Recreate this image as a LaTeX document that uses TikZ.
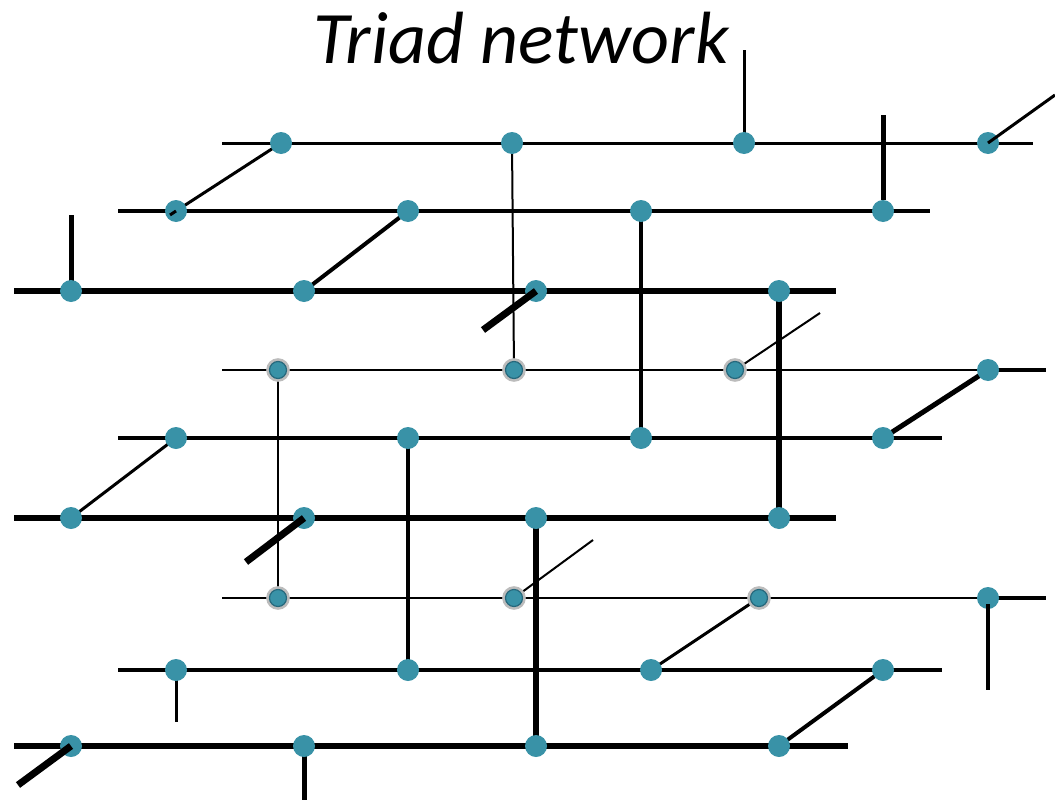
\documentclass[tikz,border=0pt]{standalone}
\usepackage{fontspec}
\setmainfont{Carlito}
\definecolor{teal1}{RGB}{57,146,167}
\definecolor{tealdark}{RGB}{38,104,124}
\definecolor{ringgrey}{RGB}{188,188,188}
\pgfdeclarelayer{bg}
\pgfsetlayers{bg,main}
\tikzset{
  dot/.style={circle, fill=teal1, inner sep=0pt, minimum size=22pt},
  gdot/.style={circle, fill=teal1, draw=tealdark, line width=1.2pt, inner sep=0pt, minimum size=17pt,
    preaction={draw=ringgrey, line width=6.5pt}},
  wA/.style={line width=2pt},
  wB/.style={line width=3pt},
  wC/.style={line width=4pt},
  wD/.style={line width=5pt},
  wE/.style={line width=6pt},
  wF/.style={line width=7pt},
}
\begin{document}
\begin{tikzpicture}[x=1pt,y=-1pt]
\useasboundingbox (0,0) rectangle (1055,803);
\node[font=\fontsize{74}{84}\selectfont\itshape, anchor=base] (title) at (521,63) {Triad network};

% ---------- Layer 1 ----------
\coordinate (r1s) at (222,143); \coordinate (r1e) at (1033,143);
\coordinate (r2s) at (118,211); \coordinate (r2e) at (930,211);
\coordinate (r3s) at (14,291);  \coordinate (r3e) at (836,291);
\node[dot] (a1) at (281,143) {}; \node[dot] (a2) at (512,143) {};
\node[dot] (a3) at (744,143) {}; \node[dot] (a4) at (988,143) {};
\node[dot] (b1) at (176,211) {}; \node[dot] (b2) at (408,211) {};
\node[dot] (b3) at (641,211) {}; \node[dot] (b4) at (883,211) {};
\node[dot] (c1) at (71,291) {};  \node[dot] (c2) at (304,291) {};
\node[dot] (c3) at (536,291) {}; \node[dot] (c4) at (779,291) {};

% ---------- Layer 2 ----------
\coordinate (r4s) at (222,370); \coordinate (r4e) at (1046,370);
\coordinate (r5s) at (118,438); \coordinate (r5e) at (942,438);
\coordinate (r6s) at (14,518);  \coordinate (r6e) at (836,518);
\node[gdot] (d1) at (278,370) {}; \node[gdot] (d2) at (514,370) {};
\node[gdot] (d3) at (735,370) {}; \node[dot] (d4) at (988,370) {};
\node[dot] (e1) at (176,438) {}; \node[dot] (e2) at (408,438) {};
\node[dot] (e3) at (641,438) {}; \node[dot] (e4) at (883,438) {};
\node[dot] (f1) at (71,518) {};  \node[dot] (f2) at (304,518) {};
\node[dot] (f3) at (536,518) {}; \node[dot] (f4) at (779,518) {};

% ---------- Layer 3 ----------
\coordinate (r7s) at (222,598); \coordinate (r7e) at (1046,598);
\coordinate (r8s) at (118,670); \coordinate (r8e) at (942,670);
\coordinate (r9s) at (14,746);  \coordinate (r9e) at (848,746);
\node[gdot] (g1) at (278,598) {}; \node[gdot] (g2) at (514,598) {};
\node[gdot] (g3) at (759,598) {}; \node[dot] (g4) at (988,598) {};
\node[dot] (h1) at (176,670) {}; \node[dot] (h2) at (408,670) {};
\node[dot] (h3) at (651,670) {}; \node[dot] (h4) at (883,670) {};
\node[dot] (i1) at (71,746) {};  \node[dot] (i2) at (304,746) {};
\node[dot] (i3) at (536,746) {}; \node[dot] (i4) at (779,746) {};

% free ends
\coordinate (s0) at (170,215);
\coordinate (s1) at (744,50);
\coordinate (s2) at (883,115);
\coordinate (s3) at (71,215);
\coordinate (s4) at (1055,95);
\coordinate (s5) at (483,330);
\coordinate (s6) at (820,313);
\coordinate (s7) at (246,562);
\coordinate (s8) at (593,540);
\coordinate (s9) at (988,690);
\coordinate (s10) at (176,722);
\coordinate (s11) at (18,785);
\coordinate (s12) at (304,800);

\begin{pgfonlayer}{bg}
  % rows
  \draw[wB] (r1s) -- (r1e);
  \draw[wC] (r2s) -- (r2e);
  \draw[wE] (r3s) -- (r3e);
  \draw[wA] (r4s) -- (d4.center);
  \draw[wC] (d4.center) -- (r4e);
  \draw[wC] (r5s) -- (r5e);
  \draw[wE] (r6s) -- (r6e);
  \draw[wA] (r7s) -- (g4.center);
  \draw[wC] (g4.center) -- (r7e);
  \draw[wC] (r8s) -- (r8e);
  \draw[wE] (r9s) -- (r9e);
  % inter-layer verticals
  \draw[wA] (a2.center) -- (d2.center);
  \draw[wC] (b3.center) -- (e3.center);
  \draw[wE] (c4.center) -- (f4.center);
  \draw[wA] (d1.center) -- (g1.center);
  \draw[wC] (e2.center) -- (h2.center);
  \draw[wE] (f3.center) -- (i3.center);
  % in-layer diagonals
  \draw[wC] (c2.center) -- (b2.center);
  \draw[wD] (e4.center) -- (d4.center);
  \draw[wB] (f1.center) -- (e1.center);
  \draw[wB] (h3.center) -- (g3.center);
  \draw[wC] (i4.center) -- (h4.center);
  \draw[wB] (b1.center) -- (a1.center);
  % stubs behind nodes
  \draw[wB] (a3.center) -- (s1);
  \draw[wD] (c1.center) -- (s3);
  \draw[wA] (d3.center) -- (s6);
  \draw[wA] (g2.center) -- (s8);
  \draw[wB] (h1.center) -- (s10);
  \draw[wD] (i2.center) -- (s12);
\end{pgfonlayer}

% stubs drawn over nodes
\draw[wB] (s0) -- (b1.center);
\draw[wD] (b4.north) -- (s2);
\draw[wB] (a4.center) -- (s4);
\draw[wF] (c3.center) -- (s5);
\draw[wF] (f2.center) -- (s7);
\draw[wC] (g4.center) ++(0,6) -- (s9);
\draw[wF] (i1.center) -- (s11);
\end{tikzpicture}
\end{document}
